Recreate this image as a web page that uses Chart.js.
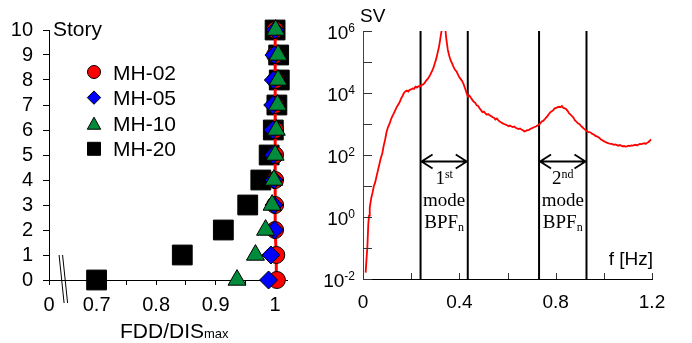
<!DOCTYPE html>
<html>
<head>
<meta charset="utf-8">
<script src="https://cdn.jsdelivr.net/npm/chart.js@4.4.1/dist/chart.umd.min.js"></script>
<style>
html, body { margin: 0; padding: 0; background: #fff; }
#wrap { position: relative; width: 692px; height: 343px; overflow: hidden; }
#left { position: absolute; left: 0; top: 0; }
#right { position: absolute; left: 310px; top: 0; }
</style>
</head>
<body>
<div id="wrap">
  <canvas id="left" width="310" height="343"></canvas>
  <canvas id="right" width="382" height="343"></canvas>
</div>
<script>
// ---- left panel: FDD/DISmax per story ----
var stories = [0, 1, 2, 3, 4, 5, 6, 7, 8, 9, 10];
var mh02 = [1.003, 1.002, 1.0, 1.0, 1.0, 1.0, 1.0, 1.0, 1.001, 1.0, 1.0];
var mh05 = [0.989, 0.993, 0.999, 0.998, 0.998, 0.997, 0.996, 0.996, 0.997, 0.998, 1.0];
var mh10 = [0.936, 0.967, 0.984, 0.995, 0.998, 1.0, 1.002, 1.004, 1.005, 1.005, 1.001];
var mh20 = [0.70, 0.844, 0.913, 0.954, 0.976, 0.99, 0.997, 1.003, 1.007, 1.006, 1.0];
var ratioTicks = [0.62, 0.7, 0.75, 0.8, 0.85, 0.9, 0.95, 1.0];
var ratioTickLabels = ['0', '0.7', '', '0.8', '', '0.9', '', '1'];
var seriesNames = ['MH-02', 'MH-05', 'MH-10', 'MH-20'];

// ---- right panel: SV spectrum ----
var freqHz = [0.011, 0.015, 0.018, 0.022, 0.025, 0.028, 0.034, 0.040, 0.045, 0.050,
  0.056, 0.062, 0.068, 0.074, 0.080, 0.086, 0.092, 0.098,
  0.104, 0.110, 0.116, 0.122, 0.128, 0.134, 0.140, 0.146, 0.152, 0.158,
  0.164, 0.170, 0.176, 0.182, 0.188, 0.194, 0.200, 0.206, 0.212, 0.218,
  0.224, 0.230, 0.236, 0.242,
  0.250, 0.256, 0.262, 0.268, 0.274, 0.280, 0.286, 0.292, 0.298, 0.304,
  0.310, 0.316, 0.322, 0.328, 0.334, 0.340, 0.346, 0.352, 0.358, 0.364,
  0.370, 0.376, 0.382, 0.388, 0.394, 0.400, 0.406, 0.412, 0.418, 0.424,
  0.430, 0.436, 0.442, 0.448, 0.454, 0.460, 0.466, 0.472, 0.478, 0.484,
  0.490, 0.496, 0.502, 0.508, 0.514, 0.520, 0.526, 0.532, 0.538, 0.544,
  0.550, 0.556, 0.562, 0.568, 0.574, 0.580, 0.586, 0.592, 0.598, 0.604,
  0.610, 0.616, 0.622, 0.628, 0.634, 0.640, 0.646, 0.652, 0.658, 0.664,
  0.670, 0.676, 0.682, 0.688, 0.694, 0.700, 0.706, 0.712, 0.718, 0.724,
  0.730, 0.736, 0.742, 0.748, 0.754, 0.760, 0.766, 0.772, 0.778, 0.784,
  0.790, 0.796, 0.802, 0.808, 0.814, 0.820, 0.826, 0.832, 0.838, 0.844,
  0.850, 0.856, 0.862, 0.868, 0.874, 0.880, 0.886, 0.892, 0.898, 0.904,
  0.910, 0.916, 0.922, 0.928, 0.934, 0.940, 0.946, 0.952, 0.958, 0.964,
  0.970, 0.976, 0.982, 0.988, 0.994, 1.000, 1.006, 1.012, 1.018, 1.024,
  1.030, 1.036, 1.042, 1.048, 1.054, 1.060, 1.066, 1.072, 1.078, 1.084,
  1.090, 1.096, 1.102, 1.108, 1.114, 1.120, 1.126, 1.132, 1.138, 1.144,
  1.150, 1.156, 1.162, 1.168, 1.174, 1.180, 1.186, 1.192, 1.196];
var svValues = [0.016, 0.05, 0.1, 0.6, 1.1, 2, 4, 6.3, 10, 12.6,
  20, 32, 50, 80, 112, 200, 316, 560,
  800, 1000, 1400, 1800, 2200, 2800, 3500, 4200, 5000, 6600,
  8000, 10000, 11200, 12000, 11200, 12600, 13000, 14000, 13500, 16000,
  15000, 16500, 16000, 18000,
  19000, 21000, 25000, 28000, 33000, 40000, 50000, 63000, 90000, 126000,
  200000, 320000, 630000, 1260000, 2000000, 1600000, 560000, 250000, 160000, 112000,
  90000, 70000, 56000, 50000, 40000, 32000, 28000, 24000, 19000, 14000,
  10000, 7600, 8300, 7000, 6000, 5200, 4800, 4000, 3800, 3200,
  2800, 2400, 2500, 2200, 2000, 2100, 1900, 1800, 1650, 1600,
  1400, 1500, 1300, 1200, 1120, 1050, 1000, 950, 910, 850,
  890, 830, 800, 830, 760, 720, 690, 720, 660, 630,
  575, 600, 630, 630, 690, 720, 760, 800, 830, 890,
  950, 1050, 1200, 1260, 1400, 1600, 1800, 2100, 2400, 2600,
  2800, 3200, 3300, 3500, 3600, 3500, 3800, 3300, 3200, 3000,
  2600, 2200, 2000, 1800, 1600, 1300, 1200, 1050, 1000, 890,
  800, 720, 660, 600, 560, 550, 525, 480, 460, 420,
  400, 380, 355, 316, 300, 280, 263, 250, 240, 234,
  229, 224, 214, 219, 209, 200, 209, 200, 190, 195,
  186, 190, 200, 195, 204, 200, 209, 214, 204, 219,
  229, 224, 234, 240, 229, 250, 263, 295, 316];
var bandEdges = [0.239, 0.435, 0.731, 0.928];
var bandLabels = [['1', 'st'], ['2', 'nd']];
var freqTicks = [0, 0.2, 0.4, 0.6, 0.8, 1.0, 1.2];
var freqTickLabels = ['0', '', '0.4', '', '0.8', '', '1.2'];
var svTicks = [1e-2, 1e-1, 1e0, 1e1, 1e2, 1e3, 1e4, 1e5, 1e6];
var svLabelExps = [-2, 0, 2, 4, 6];
var arrowLevel = 65;

Chart.defaults.font.family = "'Liberation Sans', Arial, Helvetica, sans-serif";
Chart.defaults.color = '#000';

var SANS = "'Liberation Sans', Arial, Helvetica, sans-serif";
var SERIF = "'Liberation Serif', 'Times New Roman', serif";

function xy(xs, ys) {
    return xs.map(function(v, i) { return { x: v, y: ys[i] }; });
}

function marker(ctx, style, x, y, s, fill) {
    ctx.beginPath();
    if (style === 'circle') {
        ctx.arc(x, y, s, 0, Math.PI * 2);
    } else if (style === 'diamond') {
        ctx.moveTo(x, y - s); ctx.lineTo(x + s, y); ctx.lineTo(x, y + s); ctx.lineTo(x - s, y);
    } else if (style === 'triangle') {
        ctx.moveTo(x, y - s * 0.9); ctx.lineTo(x + s, y + s * 0.9); ctx.lineTo(x - s, y + s * 0.9);
    } else {
        ctx.rect(x - s, y - s, 2 * s, 2 * s);
    }
    ctx.closePath();
    ctx.fillStyle = fill;
    ctx.fill();
    ctx.lineWidth = 1;
    ctx.strokeStyle = '#000';
    ctx.stroke();
}

var leftDeco = {
    id: 'leftDeco',
    afterDraw: function(chart) {
        var ctx = chart.ctx, a = chart.chartArea, x = chart.scales.x;
        ctx.save();
        ctx.fillStyle = '#000';
        ctx.font = '21px ' + SANS;
        ctx.textAlign = 'left';
        ctx.textBaseline = 'alphabetic';
        ctx.fillText('Story', a.left + 4, a.top + 6);

        // legend
        var styles = ['circle', 'diamond', 'triangle', 'square'];
        var fills = ['#ff0000', '#0000ff', '#008c3a', '#000000'];
        var sizes = [6.5, 6.7, 6.7, 6.5];
        for (var i = 0; i < seriesNames.length; i++) {
            var ly = 72 + i * 25.6;
            marker(ctx, styles[i], a.left + 45, ly, sizes[i], fills[i]);
            ctx.fillStyle = '#000';
            ctx.font = '21px ' + SANS;
            ctx.fillText(seriesNames[i], a.left + 64, ly + 7.6);
        }

        // axis break
        var bx = x.getPixelForValue(0.642);
        ctx.strokeStyle = '#000';
        ctx.lineWidth = 1;
        ctx.beginPath();
        ctx.moveTo(bx - 3, a.bottom - 25); ctx.lineTo(bx + 2, a.bottom + 23);
        ctx.moveTo(bx + 0.5, a.bottom - 25); ctx.lineTo(bx + 5.5, a.bottom + 23);
        ctx.stroke();

        // x title with subscript
        ctx.fillStyle = '#000';
        ctx.font = '21px ' + SANS;
        var w1 = ctx.measureText('FDD/DIS').width;
        ctx.fillText('FDD/DIS', 120, 338);
        ctx.font = '13px ' + SANS;
        ctx.fillText('max', 120 + w1, 338);
        ctx.restore();
    }
};

new Chart(document.getElementById('left').getContext('2d'), {
    type: 'scatter',
    data: {
        datasets: [{
            label: seriesNames[0],
            data: xy(mh02, stories),
            showLine: true,
            borderColor: '#ff0000',
            borderWidth: 3,
            pointStyle: 'circle',
            pointRadius: 8.5,
            pointBackgroundColor: '#ff0000',
            pointBorderColor: '#000',
            pointBorderWidth: 1,
            clip: false,
            order: 2
        }, {
            label: seriesNames[1],
            data: xy(mh05, stories),
            pointStyle: 'rectRot',
            pointRadius: 9,
            pointBackgroundColor: '#0000ff',
            pointBorderColor: '#000',
            pointBorderWidth: 1,
            clip: false,
            order: 1
        }, {
            label: seriesNames[2],
            data: xy(mh10, stories),
            pointStyle: 'triangle',
            pointRadius: 10.4,
            pointBackgroundColor: '#008c3a',
            pointBorderColor: '#000',
            pointBorderWidth: 1,
            clip: false,
            order: 0
        }, {
            label: seriesNames[3],
            data: xy(mh20, stories),
            pointStyle: 'rect',
            pointRadius: 14,
            pointBackgroundColor: '#000',
            pointBorderColor: '#000',
            pointBorderWidth: 1,
            clip: false,
            order: 3
        }]
    },
    options: {
        responsive: false,
        animation: false,
        events: [],
        layout: { padding: { top: 30, right: 23, left: 0, bottom: 0 } },
        plugins: { legend: { display: false }, tooltip: { enabled: false } },
        scales: {
            x: {
                type: 'linear', min: 0.62, max: 1.02,
                afterBuildTicks: function(s) { s.ticks = ratioTicks.map(function(v) { return { value: v }; }); },
                afterFit: function(s) { s.height = 63; },
                ticks: {
                    autoSkip: false, maxRotation: 0, padding: 8, font: { size: 20 },
                    callback: function(v, i) { return ratioTickLabels[i]; }
                },
                grid: { drawOnChartArea: false, tickLength: 5, color: '#000' },
                border: { color: '#000', width: 1 }
            },
            y: {
                min: 0, max: 10,
                afterBuildTicks: function(s) { s.ticks = stories.map(function(v) { return { value: v }; }); },
                afterFit: function(s) { s.width = 49; },
                ticks: { autoSkip: false, padding: 10, font: { size: 20 } },
                grid: { drawOnChartArea: false, tickLength: 6, color: '#000' },
                border: { color: '#000', width: 1 }
            }
        }
    },
    plugins: [leftDeco]
});

var rightDeco = {
    id: 'rightDeco',
    afterDraw: function(chart) {
        var ctx = chart.ctx, a = chart.chartArea, x = chart.scales.x, y = chart.scales.y;
        ctx.save();
        // inward ticks
        ctx.strokeStyle = '#333';
        ctx.lineWidth = 1;
        ctx.beginPath();
        x.ticks.forEach(function(t) {
            var px = Math.round(x.getPixelForValue(t.value)) + 0.5;
            ctx.moveTo(px, a.bottom); ctx.lineTo(px, a.bottom - 6);
        });
        y.ticks.forEach(function(t) {
            var py = Math.round(y.getPixelForValue(t.value)) + 0.5;
            ctx.moveTo(a.left, py); ctx.lineTo(a.left + 9, py);
        });
        ctx.stroke();

        // y labels 10^n
        ctx.fillStyle = '#000';
        ctx.textBaseline = 'alphabetic';
        svLabelExps.forEach(function(e) {
            var py = y.getPixelForValue(Math.pow(10, e));
            var ex = e < 0 ? '-' + Math.abs(e) : String(e);
            ctx.font = '12px ' + SANS;
            var ew = ctx.measureText(ex).width;
            var right = a.left - 8;
            ctx.textAlign = 'left';
            ctx.fillText(ex, right - ew, py + 1);
            ctx.font = '19px ' + SANS;
            ctx.textAlign = 'right';
            ctx.fillText('10', right - ew, py + 8);
        });

        // axis names
        ctx.textAlign = 'left';
        ctx.font = '19px ' + SANS;
        ctx.fillText('SV', a.left - 3, a.top - 9);
        ctx.textAlign = 'right';
        ctx.fillText('f [Hz]', a.right + 1, a.bottom - 14);

        // band arrows and labels
        var ay = Math.round(y.getPixelForValue(arrowLevel)) + 0.5;
        ctx.strokeStyle = '#000';
        ctx.lineWidth = 1.8;
        for (var b = 0; b < 2; b++) {
            var x1 = x.getPixelForValue(bandEdges[2 * b]) + 1;
            var x2 = x.getPixelForValue(bandEdges[2 * b + 1]) - 1;
            ctx.beginPath();
            ctx.moveTo(x1, ay); ctx.lineTo(x2, ay);
            ctx.moveTo(x1 + 11, ay - 7); ctx.lineTo(x1, ay); ctx.lineTo(x1 + 11, ay + 7);
            ctx.moveTo(x2 - 11, ay - 7); ctx.lineTo(x2, ay); ctx.lineTo(x2 - 11, ay + 7);
            ctx.stroke();

            var cx = (x1 + x2) / 2;
            ctx.textAlign = 'left';
            // "1st" / "2nd"
            ctx.font = '19px ' + SERIF;
            var nw = ctx.measureText(bandLabels[b][0]).width;
            ctx.font = '12px ' + SERIF;
            var sw = ctx.measureText(bandLabels[b][1]).width;
            var sx = cx - (nw + sw) / 2;
            ctx.font = '19px ' + SERIF;
            ctx.fillText(bandLabels[b][0], sx, ay + 22);
            ctx.font = '12px ' + SERIF;
            ctx.fillText(bandLabels[b][1], sx + nw, ay + 16);
            // "mode"
            ctx.font = '19px ' + SERIF;
            ctx.textAlign = 'center';
            ctx.fillText('mode', cx, ay + 44);
            // "BPFn"
            ctx.textAlign = 'left';
            var bw = ctx.measureText('BPF').width;
            ctx.font = '12px ' + SERIF;
            var nnw = ctx.measureText('n').width;
            var bx = cx - (bw + nnw) / 2;
            ctx.font = '19px ' + SERIF;
            ctx.fillText('BPF', bx, ay + 66);
            ctx.font = '12px ' + SERIF;
            ctx.fillText('n', bx + bw, ay + 69);
        }
        ctx.restore();
    }
};

var rightSets = [{
    data: xy(freqHz, svValues),
    showLine: true,
    borderColor: '#ff0000',
    borderWidth: 1.8,
    pointRadius: 0,
    order: 0
}];
bandEdges.forEach(function(e) {
    rightSets.push({
        data: [{ x: e, y: svTicks[0] }, { x: e, y: svTicks[svTicks.length - 1] }],
        showLine: true,
        borderColor: '#000',
        borderWidth: 2,
        pointRadius: 0,
        order: 1
    });
});

new Chart(document.getElementById('right').getContext('2d'), {
    type: 'scatter',
    data: { datasets: rightSets },
    options: {
        responsive: false,
        animation: false,
        events: [],
        layout: { padding: { top: 31, right: 40, left: 0, bottom: 0 } },
        plugins: { legend: { display: false }, tooltip: { enabled: false } },
        scales: {
            x: {
                type: 'linear', min: 0, max: 1.2,
                afterBuildTicks: function(s) { s.ticks = freqTicks.map(function(v) { return { value: v }; }); },
                afterFit: function(s) { s.height = 64; },
                ticks: {
                    autoSkip: false, maxRotation: 0, padding: 12, font: { size: 19 },
                    callback: function(v, i) { return freqTickLabels[i]; }
                },
                grid: { display: false, drawTicks: false },
                border: { color: '#000', width: 1 }
            },
            y: {
                type: 'logarithmic', min: 1e-2, max: 1e6,
                afterBuildTicks: function(s) { s.ticks = svTicks.map(function(v) { return { value: v }; }); },
                afterFit: function(s) { s.width = 53; },
                ticks: { display: false },
                grid: { display: false, drawTicks: false },
                border: { color: '#444', width: 1 }
            }
        }
    },
    plugins: [rightDeco]
});
</script>
</body>
</html>
